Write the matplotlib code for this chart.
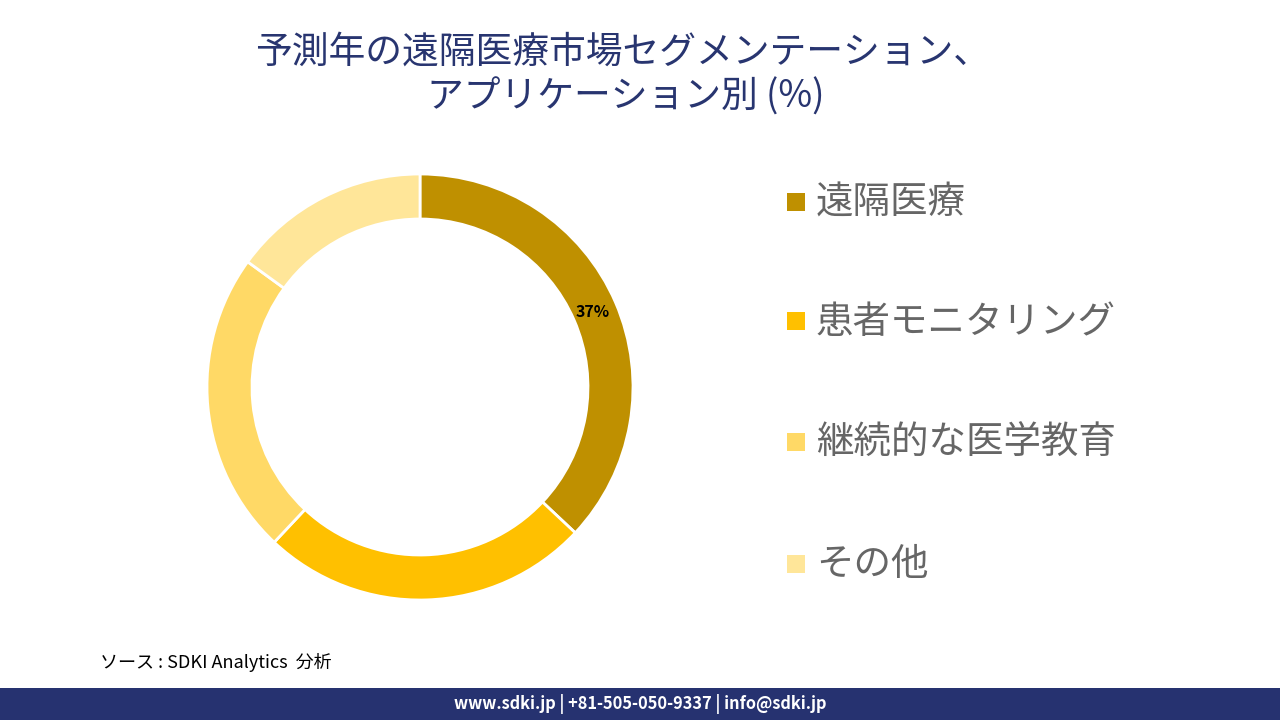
import matplotlib
matplotlib.use("Agg")
import matplotlib.pyplot as plt
from matplotlib.patches import Rectangle

plt.rcParams['font.family'] = ['Noto Sans CJK JP', 'DejaVu Sans']

# data
categories = ['遠隔医療', '患者モニタリング', '継続的な医学教育', 'その他']
shares = [37, 25, 23, 15]
colors = ['#BF9000', '#FFC000', '#FFD966', '#FFE699']

W, H = 1280, 720
fig = plt.figure(figsize=(12.8, 7.2), dpi=100, facecolor='white')

# title
fig.text(623 / W, 1 - 52 / H, '予測年の遠隔医療市場セグメンテーション、',
         ha='center', va='center', fontsize=26.5, color='#283570')
fig.text(626 / W, 1 - 97 / H, 'アプリケーション別 (%)',
         ha='center', va='center', fontsize=26.5, color='#283570')

# donut
cx, cy, r = 420, 387, 213
ax = fig.add_axes([(cx - r) / W, (H - cy - r) / H, 2 * r / W, 2 * r / H])
wedges, _ = ax.pie(shares, colors=colors, startangle=90, counterclock=False,
                   radius=1, wedgeprops=dict(width=45 / r, edgecolor='white', linewidth=2))
ax.set_xlim(-1, 1)
ax.set_ylim(-1, 1)
ax.set_aspect('equal')
ax.axis('off')

# percentage label on the first wedge only
fig.text(593 / W, 1 - 312 / H, f'{shares[0]}%', ha='center', va='center',
         fontsize=11.5, fontweight='bold', color='black')

# legend
rows_y = [203, 322, 443, 565]
for cat, col, yy in zip(categories, colors, rows_y):
    fig.patches.append(Rectangle((787 / W, 1 - (yy + 8) / H), 18 / W, 18 / H,
                                 transform=fig.transFigure, facecolor=col, edgecolor='none'))
    fig.text(816 / W, 1 - yy / H, cat, ha='left', va='center', fontsize=27, color='#666666')

# source
fig.text(100 / W, 1 - 662 / H, 'ソース : SDKI Analytics  分析', ha='left', va='center',
         fontsize=13, style='italic', color='black')

# footer band
fig.patches.append(Rectangle((0, 0), 1, 32 / H, transform=fig.transFigure,
                             facecolor='#263270', edgecolor='none'))
fig.text(0.5, 16 / H, 'www.sdki.jp | +81-505-050-9337 | info@sdki.jp', ha='center', va='center',
         fontsize=11.8, fontweight='bold', color='white')

fig.savefig('out.png', dpi=100, facecolor='white')
